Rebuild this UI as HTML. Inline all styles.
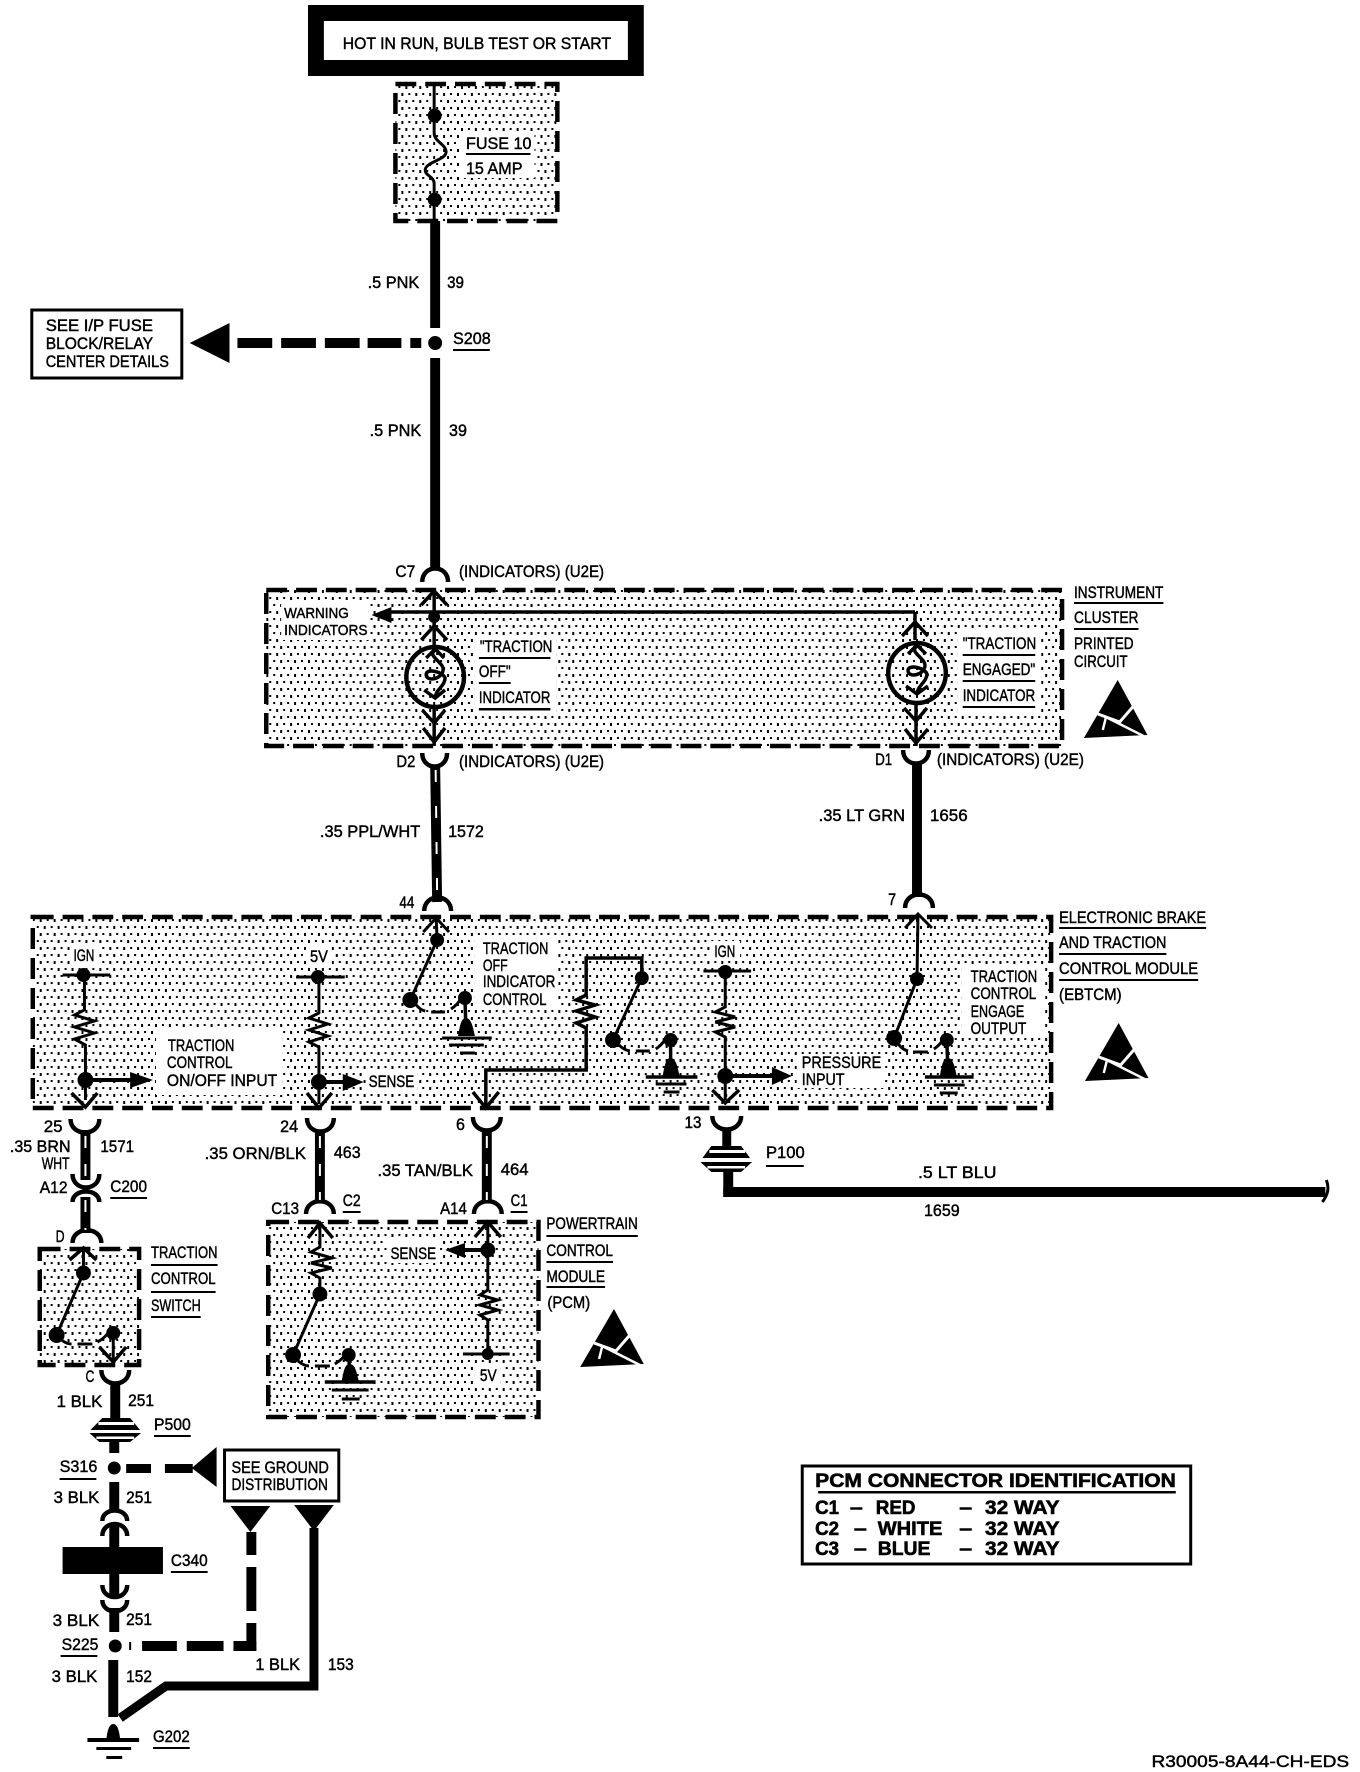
<!DOCTYPE html>
<html><head><meta charset="utf-8"><style>
html,body{margin:0;padding:0;background:#fff}
svg{display:block}
text{font-family:"Liberation Sans",sans-serif;font-size:17px;fill:#000;stroke:#000;stroke-width:.45}
.b text,text.b{font-weight:bold;font-size:19.5px;stroke-width:.6}
.w{fill:none;stroke:#000;stroke-linecap:butt;stroke-linejoin:miter}
</style></head><body>
<svg width="1360" height="1772" viewBox="0 0 1360 1772" xmlns="http://www.w3.org/2000/svg">
<defs>
<pattern id="d" width="14" height="14" patternUnits="userSpaceOnUse">
<rect x="2" y="2" width="2" height="3" fill="#000"/><rect x="9" y="2" width="2" height="2" fill="#000"/>
<rect x="5" y="9" width="2" height="2" fill="#000"/><rect x="12" y="9" width="2" height="3" fill="#000"/>
</pattern>
<g id="esd"><polygon points="34,0 64,55 0,58" fill="#000"/><polyline points="14,34 36,42 50,26" fill="none" stroke="#fff" stroke-width="3"/><line x1="20" y1="36" x2="64" y2="58" stroke="#fff" stroke-width="2.5"/><line x1="22" y1="38" x2="19" y2="50" stroke="#fff" stroke-width="2.5"/></g>
</defs>
<rect width="1360" height="1772" fill="#fff"/>
<g transform="scale(.9935,1)">

<!-- Hot box -->
<rect x="310" y="5" width="338" height="71" fill="#000"/>
<rect x="326" y="21" width="306" height="39" fill="#fff"/>
<text x="345" y="49" textLength="270" lengthAdjust="spacingAndGlyphs">HOT IN RUN, BULB TEST OR START</text>

<!-- Fuse box -->
<rect x="398" y="84" width="163" height="137" fill="url(#d)" stroke="#000" stroke-width="4.500" stroke-dasharray="21 9"/>
<rect x="464" y="132" width="74" height="46" fill="#fff"/>
<path class="w" stroke-width="3" d="M437 84V133C437 142 449 144 449 152C449 160 428 162 428 170C428 176 437 176 437 184V223"/>
<circle cx="437.500" cy="115.600" r="7"/><circle cx="437.500" cy="199.600" r="7"/>
<text x="469" y="149" textLength="66" lengthAdjust="spacingAndGlyphs">FUSE 10</text>
<rect x="469" y="153" width="65" height="2"/>
<text x="469" y="174" textLength="57" lengthAdjust="spacingAndGlyphs">15 AMP</text>

<!-- main wire -->
<rect x="433" y="221" width="10" height="107"/>
<rect x="433" y="358" width="10" height="212"/>
<circle cx="438" cy="343" r="7"/>
<text x="370" y="288" textLength="52" lengthAdjust="spacingAndGlyphs">.5 PNK</text>
<text x="450" y="288" textLength="17" lengthAdjust="spacingAndGlyphs">39</text>
<text x="372" y="436" textLength="52" lengthAdjust="spacingAndGlyphs">.5 PNK</text>
<text x="452" y="436" textLength="18" lengthAdjust="spacingAndGlyphs">39</text>
<text x="456" y="344" textLength="38" lengthAdjust="spacingAndGlyphs">S208</text>
<rect x="456" y="349" width="37" height="2"/>

<!-- see IP fuse -->
<rect x="32" y="310" width="151" height="68" fill="#fff" stroke="#000" stroke-width="3"/>
<text x="46" y="331" textLength="108" lengthAdjust="spacingAndGlyphs">SEE I/P FUSE</text>
<text x="46" y="349" textLength="108" lengthAdjust="spacingAndGlyphs">BLOCK/RELAY</text>
<text x="46" y="367" textLength="124" lengthAdjust="spacingAndGlyphs">CENTER DETAILS</text>
<polygon points="191,343 231,323 231,363"/>
<rect x="239" y="338" width="35" height="10"/><rect x="283" y="338" width="35" height="10"/><rect x="327" y="338" width="35" height="10"/><rect x="370" y="338" width="34" height="10"/><rect x="413" y="338" width="11" height="10"/>

<!-- C7 -->
<path class="w" stroke-width="4.500" d="M425 582C425 564 451 564 451 582"/>
<text x="398" y="577" textLength="20" lengthAdjust="spacingAndGlyphs">C7</text>
<text x="462" y="577" textLength="146" lengthAdjust="spacingAndGlyphs">(INDICATORS) (U2E)</text>

<!-- Instrument cluster box -->
<rect x="268" y="590" width="801" height="156" fill="url(#d)" stroke="#000" stroke-width="4.500" stroke-dasharray="21 9"/>
<rect x="283" y="604" width="88" height="36" fill="#fff"/>
<rect x="478" y="636" width="82" height="78" fill="#fff"/>
<rect x="964" y="632" width="84" height="80" fill="#fff"/>
<text x="286" y="618" textLength="65" lengthAdjust="spacingAndGlyphs" style="font-size:15px">WARNING</text>
<text x="286" y="635" textLength="84" lengthAdjust="spacingAndGlyphs" style="font-size:15px">INDICATORS</text>
<text x="483" y="652" textLength="73" lengthAdjust="spacingAndGlyphs">"TRACTION</text><rect x="482" y="657" width="72" height="2"/>
<text x="482" y="677" textLength="32" lengthAdjust="spacingAndGlyphs">OFF"</text><rect x="482" y="682" width="32" height="2"/>
<text x="482" y="703" textLength="72" lengthAdjust="spacingAndGlyphs">INDICATOR</text><rect x="482" y="708" width="72" height="2.500"/>
<text x="969" y="649" textLength="74" lengthAdjust="spacingAndGlyphs">"TRACTION</text><rect x="969" y="654" width="73" height="2"/>
<text x="969" y="675" textLength="73" lengthAdjust="spacingAndGlyphs">ENGAGED"</text><rect x="969" y="680" width="73" height="2"/>
<text x="969" y="701" textLength="73" lengthAdjust="spacingAndGlyphs">INDICATOR</text><rect x="969" y="706" width="73" height="2"/>
<text x="1081" y="598" textLength="90" lengthAdjust="spacingAndGlyphs">INSTRUMENT</text><rect x="1081" y="602" width="90" height="2"/>
<text x="1081" y="623" textLength="65" lengthAdjust="spacingAndGlyphs">CLUSTER</text><rect x="1081" y="628" width="65" height="2"/>
<text x="1081" y="649" textLength="60" lengthAdjust="spacingAndGlyphs">PRINTED</text>
<text x="1081" y="667" textLength="54" lengthAdjust="spacingAndGlyphs">CIRCUIT</text>
<use href="#esd" transform="translate(1091,680)"/>

<!-- lamps -->
<g fill="none" stroke="#000" stroke-width="3.500">
<path class="w" d="M437 590V650"/>
<polyline class="w" points="424,605 437,591 450,605"/>
<polyline class="w" points="424,640 437,626 450,640"/>
<line class="w" x1="921" y1="612" x2="390" y2="612"/>
<polyline class="w" points="921,612 921,640"/>
<polyline class="w" points="908,636 921,622 934,636"/>
<ellipse class="w" cx="438" cy="677" rx="29" ry="30" stroke-width="4.500"/>
<polyline class="w" points="429,658 438,649 447,658"/>
<path class="w" d="M438 650C429 656 447 662 446 670C445 680 428 682 429 674C430 668 446 672 448 678C448 686 438 690 438 698"/>
<polyline class="w" points="427,690 438,698 448,690"/>
<polyline class="w" points="425,710 437,723 448,710"/>
<polyline class="w" points="426,728 437,742 448,728"/>
<line class="w" x1="437" y1="708" x2="437" y2="746"/>
<ellipse class="w" cx="923" cy="673" rx="29" ry="30" stroke-width="4.500"/>
<polyline class="w" points="914,654 923,645 932,654"/>
<path class="w" d="M923 646C914 652 932 658 931 666C930 676 913 678 914 670C915 664 931 668 933 674C933 682 923 686 923 694"/>
<polyline class="w" points="912,686 923,694 934,686"/>
<polyline class="w" points="910,708 922,721 933,708"/>
<polyline class="w" points="911,729 922,743 934,729"/>
<line class="w" x1="922" y1="703" x2="922" y2="746"/>
</g>
<polygon points="374,615 394,607 394,623"/>
<circle cx="437" cy="617" r="6"/>

<!-- D2/D1 -->
<path class="w" stroke-width="4.500" d="M425 753C425 771 450 771 450 753"/>
<path class="w" stroke-width="4.500" d="M909 750C909 768 935 768 935 750"/>
<text x="399" y="767" textLength="19" lengthAdjust="spacingAndGlyphs">D2</text>
<text x="462" y="767" textLength="146" lengthAdjust="spacingAndGlyphs">(INDICATORS) (U2E)</text>
<text x="881" y="765" textLength="17" lengthAdjust="spacingAndGlyphs">D1</text>
<text x="943" y="765" textLength="148" lengthAdjust="spacingAndGlyphs">(INDICATORS) (U2E)</text>
<path class="w" stroke-width="10" d="M438 765L440 902"/>
<path stroke="#fff" stroke-width="2" stroke-dasharray="12 24" fill="none" d="M438.500 770L440 895"/>
<rect x="918" y="762" width="10" height="135"/>
<text x="322" y="837" textLength="101" lengthAdjust="spacingAndGlyphs">.35 PPL/WHT</text>
<text x="451" y="837" textLength="36" lengthAdjust="spacingAndGlyphs">1572</text>
<text x="824" y="821" textLength="87" lengthAdjust="spacingAndGlyphs">.35 LT GRN</text>
<text x="936" y="821" textLength="38" lengthAdjust="spacingAndGlyphs">1656</text>

<!-- arcs into EBTCM -->
<path class="w" stroke-width="4.500" d="M427 911C427 893 454 893 454 911"/>
<path class="w" stroke-width="4.500" d="M911 908C911 890 939 890 939 908"/>
<text x="402" y="908" textLength="15" lengthAdjust="spacingAndGlyphs">44</text>
<text x="894" y="905" textLength="8" lengthAdjust="spacingAndGlyphs">7</text>

<!-- EBTCM box -->
<rect x="33" y="917" width="1025" height="191" fill="url(#d)" stroke="#000" stroke-width="4.500" stroke-dasharray="21 9"/>
<rect x="478" y="935" width="84" height="74" fill="#fff"/>
<rect x="157" y="1027" width="127" height="68" fill="#fff"/>
<rect x="368" y="1072" width="52" height="20" fill="#fff"/>
<rect x="802" y="1054" width="88" height="34" fill="#fff"/>
<rect x="968" y="964" width="84" height="74" fill="#fff"/>
<rect x="70" y="945" width="30" height="20" fill="#fff"/>
<rect x="308" y="946" width="26" height="20" fill="#fff"/>
<rect x="715" y="941" width="30" height="20" fill="#fff"/>
<text x="486" y="954" textLength="66" lengthAdjust="spacingAndGlyphs">TRACTION</text>
<text x="486" y="971" textLength="25" lengthAdjust="spacingAndGlyphs">OFF</text>
<text x="486" y="987" textLength="73" lengthAdjust="spacingAndGlyphs">INDICATOR</text>
<text x="486" y="1005" textLength="64" lengthAdjust="spacingAndGlyphs">CONTROL</text>
<text x="169" y="1051" textLength="67" lengthAdjust="spacingAndGlyphs">TRACTION</text>
<text x="168" y="1068" textLength="66" lengthAdjust="spacingAndGlyphs">CONTROL</text>
<text x="168" y="1086" textLength="111" lengthAdjust="spacingAndGlyphs">ON/OFF INPUT</text>
<text x="371" y="1087" textLength="46" lengthAdjust="spacingAndGlyphs">SENSE</text>
<text x="807" y="1068" textLength="80" lengthAdjust="spacingAndGlyphs">PRESSURE</text>
<text x="807" y="1085" textLength="43" lengthAdjust="spacingAndGlyphs">INPUT</text>
<text x="977" y="982" textLength="67" lengthAdjust="spacingAndGlyphs">TRACTION</text>
<text x="977" y="999" textLength="66" lengthAdjust="spacingAndGlyphs">CONTROL</text>
<text x="977" y="1017" textLength="54" lengthAdjust="spacingAndGlyphs">ENGAGE</text>
<text x="977" y="1034" textLength="56" lengthAdjust="spacingAndGlyphs">OUTPUT</text>
<text x="74" y="961" textLength="21" lengthAdjust="spacingAndGlyphs">IGN</text>
<text x="312" y="962" textLength="18" lengthAdjust="spacingAndGlyphs">5V</text>
<text x="719" y="957" textLength="21" lengthAdjust="spacingAndGlyphs">IGN</text>
<text x="1066" y="923" textLength="148" lengthAdjust="spacingAndGlyphs">ELECTRONIC BRAKE</text><rect x="1066" y="927" width="148" height="2"/>
<text x="1066" y="948" textLength="108" lengthAdjust="spacingAndGlyphs">AND TRACTION</text><rect x="1066" y="953" width="108" height="2"/>
<text x="1066" y="974" textLength="140" lengthAdjust="spacingAndGlyphs">CONTROL MODULE</text><rect x="1066" y="979" width="140" height="2"/>
<text x="1066" y="1000" textLength="63" lengthAdjust="spacingAndGlyphs">(EBTCM)</text>
<use href="#esd" transform="translate(1092,1023)"/>

<g fill="none" stroke="#000" stroke-width="3">
<!-- switch 44 -->
<polyline points="426,932 439,918 452,932"/><line x1="439" y1="918" x2="440" y2="940"/>
<line x1="440" y1="940" x2="413" y2="1000"/>
<path d="M419 1005Q423 1010 428 1011"/><line x1="434" y1="1012" x2="448" y2="1012"/><path d="M454 1009Q460 1005 463 1000"/>
<line x1="468" y1="998" x2="469" y2="1030" stroke-width="3.500"/>
<line x1="445" y1="1038" x2="495" y2="1038"/><line x1="452" y1="1045" x2="487" y2="1045"/><line x1="463" y1="1053" x2="478" y2="1053"/>
<!-- IGN left -->
<line x1="63" y1="975" x2="111" y2="975"/>
<polyline points="85,975 85,1010 75,1015 95,1021 75,1027 95,1033 75,1039 86,1045 86,1100"/>
<polyline points="72,1093 86,1107 98,1093" stroke-width="3.500"/>
<line x1="86" y1="1080" x2="135" y2="1080" stroke-width="4"/>
<!-- 5V -->
<line x1="298" y1="977" x2="347" y2="977"/>
<polyline points="321,977 321,1013 311,1018 330,1024 311,1030 330,1036 311,1042 321,1047 321,1104"/>
<polyline points="309,1093 321,1108 334,1093" stroke-width="3.500"/>
<line x1="321" y1="1082" x2="348" y2="1082" stroke-width="4"/>
<!-- third -->
<polyline points="489,1105 489,1070 590,1070 590,1028 580,1023 599,1017 580,1011 599,1005 580,1000 590,995 590,958 646,958 646,978" stroke-width="3.500"/>
<polyline points="476,1092 489,1108 502,1092" stroke-width="3.500"/>
<line x1="646" y1="978" x2="617" y2="1040"/>
<path d="M623 1045Q628 1050 634 1051"/><line x1="640" y1="1051" x2="654" y2="1051"/><path d="M660 1049Q666 1045 669 1040"/>
<line x1="675" y1="1040" x2="675" y2="1068" stroke-width="3.500"/>
<line x1="650" y1="1077" x2="702" y2="1077" stroke-width="3.500"/><line x1="660" y1="1084" x2="691" y2="1084"/><line x1="668" y1="1092" x2="684" y2="1092"/>
<!-- IGN 2 -->
<line x1="708" y1="971" x2="756" y2="971"/>
<polyline points="730,972 730,1007 720,1012 740,1017 720,1022 740,1027 720,1032 730,1037 730,1100"/>
<polyline points="717,1090 730,1103 744,1090" stroke-width="3.500"/>
<line x1="730" y1="1076" x2="780" y2="1076" stroke-width="4"/>
<!-- switch 7 -->
<polyline points="911,928 924,914 938,928"/><line x1="924" y1="914" x2="923" y2="979"/>
<line x1="923" y1="979" x2="900" y2="1038"/>
<path d="M904 1044Q909 1050 914 1051"/><line x1="919" y1="1052" x2="934" y2="1052"/><path d="M940 1049Q946 1045 949 1040"/>
<line x1="953" y1="1040" x2="954" y2="1068" stroke-width="3.500"/>
<line x1="931" y1="1077" x2="980" y2="1077" stroke-width="3.500"/><line x1="940" y1="1085" x2="971" y2="1085"/><line x1="946" y1="1093" x2="964" y2="1093"/>
</g>
<circle cx="440" cy="940" r="7"/><circle cx="413" cy="1000" r="8"/><circle cx="468" cy="998" r="7"/><path d="M461 1036C463 1026 464 1018 469 1018C474 1018 476 1026 478 1036Z"/>
<circle cx="84" cy="975" r="7"/><circle cx="86" cy="1080" r="8"/><polygon points="131,1072 154,1080 131,1088"/>
<circle cx="320" cy="977" r="7"/><circle cx="321" cy="1082" r="8"/><polygon points="345,1074 366,1082 345,1091"/>
<circle cx="646" cy="978" r="7"/><circle cx="617" cy="1040" r="8"/><circle cx="675" cy="1040" r="7"/><path d="M667 1076C669 1066 670 1058 675 1058C680 1058 682 1066 684 1076Z"/>
<circle cx="730" cy="972" r="7"/><circle cx="730" cy="1076" r="8"/><polygon points="777,1067 797,1076 777,1085"/>
<circle cx="923" cy="979" r="7"/><circle cx="900" cy="1038" r="8"/><circle cx="953" cy="1040" r="7"/><path d="M946 1076C948 1066 949 1058 954 1058C959 1058 961 1066 963 1076Z"/>

<!-- lower connectors -->
<g fill="none" stroke="#000" stroke-width="4.500">
<path class="w" d="M71 1119C71 1137 100 1137 100 1119"/>
<path class="w" d="M309 1118C309 1136 336 1136 336 1118"/>
<path class="w" d="M476 1117C476 1135 504 1135 504 1117"/>
<path class="w" d="M717 1116C717 1134 746 1134 746 1116"/>
<path class="w" d="M73 1174C73 1192 100 1192 100 1174"/>
<path class="w" d="M73 1202C73 1188 100 1188 100 1202"/>
<path class="w" d="M73 1243C73 1226 102 1226 102 1243"/>
<path class="w" d="M308 1214C308 1197 336 1197 336 1214"/>
<path class="w" d="M477 1214C477 1197 505 1197 505 1214"/>
<path class="w" d="M102 1370C102 1388 130 1388 130 1370"/>
</g>
<rect x="81" y="1130" width="10" height="50"/><rect x="81" y="1197" width="10" height="36"/>
<rect x="317" y="1130" width="10" height="72"/><rect x="485" y="1130" width="10" height="72"/>
<g stroke="#fff" stroke-width="2" stroke-dasharray="12 16" fill="none">
<line x1="86" y1="1136" x2="86" y2="1176"/><line x1="86" y1="1200" x2="86" y2="1230"/>
<line x1="322" y1="1136" x2="322" y2="1200"/><line x1="490" y1="1136" x2="490" y2="1200"/>
</g>
<text x="44" y="1132" textLength="19" lengthAdjust="spacingAndGlyphs">25</text>
<text x="10" y="1152" textLength="61" lengthAdjust="spacingAndGlyphs">.35 BRN</text>
<text x="42" y="1169" textLength="28" lengthAdjust="spacingAndGlyphs">WHT</text>
<text x="101" y="1152" textLength="34" lengthAdjust="spacingAndGlyphs">1571</text>
<text x="282" y="1132" textLength="18" lengthAdjust="spacingAndGlyphs">24</text>
<text x="206" y="1159" textLength="102" lengthAdjust="spacingAndGlyphs">.35 ORN/BLK</text>
<text x="336" y="1158" textLength="27" lengthAdjust="spacingAndGlyphs">463</text>
<text x="459" y="1130" textLength="9" lengthAdjust="spacingAndGlyphs">6</text>
<text x="380" y="1176" textLength="96" lengthAdjust="spacingAndGlyphs">.35 TAN/BLK</text>
<text x="504" y="1175" textLength="28" lengthAdjust="spacingAndGlyphs">464</text>
<text x="689" y="1128" textLength="17" lengthAdjust="spacingAndGlyphs">13</text>

<!-- P100 -->
<rect x="727" y="1128" width="9" height="20"/>
<polygon points="716,1146 746,1146 755,1158 707,1158"/>
<rect x="714" y="1150" width="36" height="3" fill="#fff"/>
<polygon points="705,1162 757,1162 746,1172 716,1172"/>
<rect x="712" y="1166" width="38" height="2.500" fill="#fff"/>
<rect x="728" y="1171" width="10" height="26"/>
<rect x="728" y="1187" width="606" height="10"/>
<path class="w" stroke-width="3" d="M1335 1180C1338 1188 1337 1194 1331 1202"/>
<text x="771" y="1158" textLength="39" lengthAdjust="spacingAndGlyphs">P100</text><rect x="771" y="1165" width="38" height="2"/>
<text x="924" y="1178" textLength="79" lengthAdjust="spacingAndGlyphs">.5 LT BLU</text>
<text x="930" y="1216" textLength="36" lengthAdjust="spacingAndGlyphs">1659</text>

<!-- A12 / C200 / D -->
<text x="40" y="1193" textLength="28" lengthAdjust="spacingAndGlyphs">A12</text>
<text x="111" y="1192" textLength="37" lengthAdjust="spacingAndGlyphs">C200</text><rect x="111" y="1197" width="37" height="2"/>
<text x="56" y="1242" textLength="9" lengthAdjust="spacingAndGlyphs">D</text>

<!-- traction control switch -->
<rect x="40" y="1249" width="100" height="116" fill="url(#d)" stroke="#000" stroke-width="4.500" stroke-dasharray="21 9"/>
<g fill="none" stroke="#000" stroke-width="3">
<polyline points="70,1260 84,1248 97,1260" stroke-width="3.500"/><line x1="84" y1="1248" x2="84" y2="1273"/>
<line x1="84" y1="1273" x2="57" y2="1335"/>
<path d="M62 1340Q67 1344 72 1344"/><line x1="78" y1="1344" x2="93" y2="1344"/><path d="M98 1342Q104 1339 108 1334"/>
<line x1="114" y1="1333" x2="114" y2="1360"/>
<polyline points="100,1347 114,1362 127,1347" stroke-width="3.500"/>
</g>
<circle cx="84" cy="1273" r="7.500"/><circle cx="57" cy="1335" r="8"/><circle cx="114" cy="1333" r="7"/>
<text x="152" y="1258" textLength="67" lengthAdjust="spacingAndGlyphs">TRACTION</text><rect x="152" y="1264" width="67" height="2"/>
<text x="152" y="1284" textLength="65" lengthAdjust="spacingAndGlyphs">CONTROL</text><rect x="152" y="1291" width="65" height="2"/>
<text x="152" y="1311" textLength="50" lengthAdjust="spacingAndGlyphs">SWITCH</text><rect x="152" y="1316" width="50" height="2"/>

<!-- PCM -->
<text x="273" y="1214" textLength="28" lengthAdjust="spacingAndGlyphs">C13</text>
<text x="345" y="1206" textLength="18" lengthAdjust="spacingAndGlyphs">C2</text><rect x="345" y="1211" width="18" height="2"/>
<text x="443" y="1214" textLength="27" lengthAdjust="spacingAndGlyphs">A14</text>
<text x="514" y="1206" textLength="17" lengthAdjust="spacingAndGlyphs">C1</text><rect x="514" y="1211" width="17" height="2"/>
<rect x="270" y="1222" width="272" height="195" fill="url(#d)" stroke="#000" stroke-width="4.500" stroke-dasharray="21 9"/>
<rect x="390" y="1241" width="52" height="22" fill="#fff"/>
<rect x="478" y="1364" width="26" height="20" fill="#fff"/>
<g fill="none" stroke="#000" stroke-width="3">
<polyline points="310,1238 322,1223 335,1238" stroke-width="3.500"/>
<polyline points="322,1223 322,1247 313,1252 334,1258 313,1263 334,1268 313,1273 322,1278 322,1294"/>
<line x1="322" y1="1294" x2="295" y2="1355"/>
<path d="M300 1361Q306 1366 311 1366"/><line x1="317" y1="1366" x2="332" y2="1366"/><path d="M337 1364Q342 1361 346 1357"/>
<line x1="351" y1="1355" x2="352" y2="1373" stroke-width="3.500"/>
<line x1="327" y1="1382" x2="378" y2="1382" stroke-width="3.500"/><line x1="334" y1="1390" x2="371" y2="1390"/><line x1="344" y1="1399" x2="362" y2="1399"/>
<polyline points="478,1237 491,1222 504,1237" stroke-width="3.500"/>
<polyline points="491,1222 491,1290 483,1295 501,1300 483,1305 501,1310 483,1315 491,1320 491,1354"/>
<line x1="466" y1="1354" x2="513" y2="1354"/>
<line x1="465" y1="1250" x2="491" y2="1250" stroke-width="4"/>
</g>
<circle cx="322" cy="1294" r="7.500"/><circle cx="295" cy="1355" r="8"/><circle cx="351" cy="1355" r="7"/><path d="M344 1381C346 1371 347 1364 352 1364C357 1364 359 1371 361 1381Z"/>
<circle cx="491" cy="1250" r="7.500"/><circle cx="491" cy="1354" r="6"/><polygon points="448,1250 468,1243 468,1258"/>
<text x="393" y="1259" textLength="46" lengthAdjust="spacingAndGlyphs">SENSE</text>
<text x="483" y="1381" textLength="17" lengthAdjust="spacingAndGlyphs">5V</text>
<text x="550" y="1229" textLength="92" lengthAdjust="spacingAndGlyphs">POWERTRAIN</text><rect x="550" y="1235" width="92" height="2"/>
<text x="550" y="1256" textLength="67" lengthAdjust="spacingAndGlyphs">CONTROL</text><rect x="550" y="1261" width="67" height="2"/>
<text x="550" y="1282" textLength="59" lengthAdjust="spacingAndGlyphs">MODULE</text><rect x="550" y="1286" width="59" height="2"/>
<text x="551" y="1308" textLength="43" lengthAdjust="spacingAndGlyphs">(PCM)</text>
<use href="#esd" transform="translate(584,1309)"/>

<!-- lower left column -->
<text x="86" y="1382" textLength="9" lengthAdjust="spacingAndGlyphs">C</text>
<rect x="111" y="1383" width="10" height="36"/>
<text x="57" y="1407" textLength="46" lengthAdjust="spacingAndGlyphs">1 BLK</text>
<text x="129" y="1406" textLength="26" lengthAdjust="spacingAndGlyphs">251</text>
<polygon points="103,1418 131,1418 141,1430 91,1430"/>
<rect x="99" y="1422" width="36" height="3" fill="#fff"/>
<polygon points="90,1433 142,1433 131,1442 100,1442"/>
<rect x="97" y="1436.500" width="38" height="2.500" fill="#fff"/>
<text x="155" y="1430" textLength="37" lengthAdjust="spacingAndGlyphs">P500</text><rect x="155" y="1435" width="37" height="2"/>
<rect x="110" y="1441" width="10" height="12"/>
<circle cx="115" cy="1468" r="6.500"/>
<text x="60" y="1472" textLength="38" lengthAdjust="spacingAndGlyphs">S316</text><rect x="60" y="1478" width="37" height="2"/>
<rect x="127" y="1464" width="25" height="9"/><rect x="166" y="1464" width="28" height="9"/>
<polygon points="193,1468 218,1447 218,1487"/>
<rect x="226" y="1450" width="115" height="51" fill="#fff" stroke="#000" stroke-width="3"/>
<text x="233" y="1473" textLength="98" lengthAdjust="spacingAndGlyphs">SEE GROUND</text>
<text x="233" y="1490" textLength="97" lengthAdjust="spacingAndGlyphs">DISTRIBUTION</text>
<rect x="110" y="1482" width="10" height="30"/>
<text x="54" y="1503" textLength="46" lengthAdjust="spacingAndGlyphs">3 BLK</text>
<text x="127" y="1503" textLength="26" lengthAdjust="spacingAndGlyphs">251</text>
<g fill="none" stroke="#000" stroke-width="4.500">
<path d="M103 1521C103 1507 128 1507 128 1521"/>
<path d="M103 1536C103 1520 128 1520 128 1536"/>
<path d="M103 1585C103 1601 128 1601 128 1585"/>
<path d="M103 1600C103 1615 128 1615 128 1600"/>
</g>
<rect x="110" y="1525" width="10" height="72"/>
<rect x="63" y="1547" width="101" height="27"/>
<text x="172" y="1566" textLength="37" lengthAdjust="spacingAndGlyphs">C340</text><rect x="172" y="1571" width="37" height="2"/>
<rect x="110" y="1608" width="10" height="24"/>
<text x="53" y="1626" textLength="47" lengthAdjust="spacingAndGlyphs">3 BLK</text>
<text x="127" y="1625" textLength="26" lengthAdjust="spacingAndGlyphs">251</text>
<circle cx="116" cy="1646" r="6.500"/>
<text x="62" y="1650" textLength="37" lengthAdjust="spacingAndGlyphs">S225</text><rect x="61" y="1655" width="37" height="2"/>
<rect x="130" y="1642" width="2" height="8"/>
<rect x="143" y="1641" width="35" height="10"/><rect x="188" y="1641" width="37" height="10"/><rect x="235" y="1641" width="23" height="10"/>
<rect x="248" y="1532" width="10" height="23"/><rect x="248" y="1567" width="10" height="44"/><rect x="248" y="1623" width="10" height="28"/>
<polygon points="232,1506 272,1506 252,1532"/>
<polygon points="296,1505 336,1505 316,1531"/>
<polyline class="w" stroke-width="9" points="316,1528 316,1686 167,1686 121,1718"/>
<rect x="109" y="1660" width="10" height="57"/>
<text x="52" y="1682" textLength="46" lengthAdjust="spacingAndGlyphs">3 BLK</text>
<text x="127" y="1682" textLength="26" lengthAdjust="spacingAndGlyphs">152</text>
<text x="257" y="1670" textLength="45" lengthAdjust="spacingAndGlyphs">1 BLK</text>
<text x="330" y="1670" textLength="26" lengthAdjust="spacingAndGlyphs">153</text>
<path d="M107 1740C108 1730 110 1724 114 1724C118 1724 120 1730 121 1740Z"/>
<rect x="88" y="1738" width="52" height="4"/><rect x="97" y="1747" width="35" height="3"/><rect x="107" y="1756" width="16" height="3"/>
<text x="154" y="1742" textLength="37" lengthAdjust="spacingAndGlyphs">G202</text><rect x="154" y="1747" width="37" height="2"/>

<!-- PCM connector box -->
<g transform="translate(4.500,0)">
<rect x="803" y="1466" width="391" height="98" fill="#fff" stroke="#000" stroke-width="3"/>
<g class="b">
<text x="816" y="1487" textLength="363" lengthAdjust="spacingAndGlyphs">PCM CONNECTOR IDENTIFICATION</text>
<text x="816" y="1514" textLength="24" lengthAdjust="spacingAndGlyphs">C1</text><text x="851" y="1514" textLength="13" lengthAdjust="spacingAndGlyphs">–</text><text x="877" y="1514" textLength="40" lengthAdjust="spacingAndGlyphs">RED</text><text x="961" y="1514" textLength="13" lengthAdjust="spacingAndGlyphs">–</text><text x="987" y="1514" textLength="75" lengthAdjust="spacingAndGlyphs">32 WAY</text>
<text x="816" y="1535" textLength="24" lengthAdjust="spacingAndGlyphs">C2</text><text x="855" y="1535" textLength="13" lengthAdjust="spacingAndGlyphs">–</text><text x="879" y="1535" textLength="65" lengthAdjust="spacingAndGlyphs">WHITE</text><text x="961" y="1535" textLength="13" lengthAdjust="spacingAndGlyphs">–</text><text x="987" y="1535" textLength="75" lengthAdjust="spacingAndGlyphs">32 WAY</text>
<text x="816" y="1555" textLength="24" lengthAdjust="spacingAndGlyphs">C3</text><text x="855" y="1555" textLength="13" lengthAdjust="spacingAndGlyphs">–</text><text x="879" y="1555" textLength="53" lengthAdjust="spacingAndGlyphs">BLUE</text><text x="961" y="1555" textLength="13" lengthAdjust="spacingAndGlyphs">–</text><text x="987" y="1555" textLength="75" lengthAdjust="spacingAndGlyphs">32 WAY</text>
</g>
<rect x="819" y="1491" width="360" height="2.500"/>
</g>
<text x="1159" y="1767" textLength="199" lengthAdjust="spacingAndGlyphs">R30005-8A44-CH-EDS</text>
</g>
</svg>
</body></html>
